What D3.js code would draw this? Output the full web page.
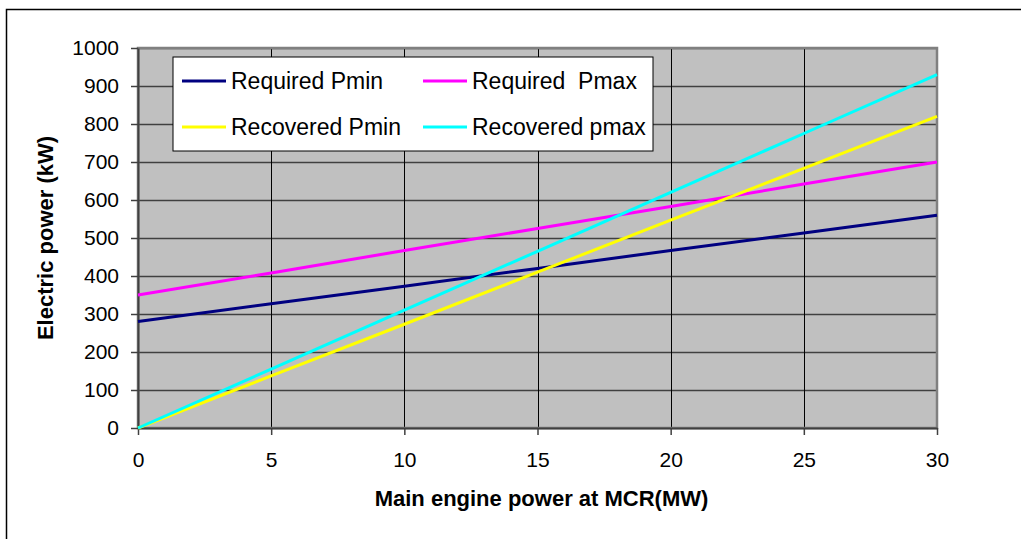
<!DOCTYPE html>
<html><head><meta charset="utf-8">
<script src="https://cdn.jsdelivr.net/npm/d3@7"></script>
<style>body{margin:0;background:#fff}svg{display:block}</style>
</head><body>
<svg id="c" width="1021" height="539"></svg>
<script>
const xValues = [0, 5, 10, 15, 20, 25, 30];
const requiredPmin = [280, 327, 373, 420, 467, 513, 560];
const requiredPmax = [350, 408, 467, 525, 583, 642, 700];
const recoveredPmin = [0, 137, 273, 410, 547, 683, 820];
const recoveredPmax = [0, 155, 310, 465, 620, 775, 930];
const seriesNames = ["Required Pmin", "Required  Pmax", "Recovered Pmin", "Recovered pmax"];
const seriesColors = ["#000080", "#ff00ff", "#ffff00", "#00ffff"];
const xTicks = [0, 5, 10, 15, 20, 25, 30];
const yTicks = [0, 100, 200, 300, 400, 500, 600, 700, 800, 900, 1000];
const xTitle = "Main engine power at MCR(MW)";
const yTitle = "Electric power (kW)";

const series = [requiredPmin, requiredPmax, recoveredPmin, recoveredPmax];
const svg = d3.select("#c");
const L = 138, R = 937, T = 48, B = 428;
const x = d3.scaleLinear().domain([0, 30]).range([L, R]);
const y = d3.scaleLinear().domain([0, 1000]).range([B, T]);
const font = "Arial, 'Liberation Sans', sans-serif";

// outer border
svg.append("rect").attr("x", 6.5).attr("y", 9.5).attr("width", 1040).attr("height", 560)
  .attr("fill", "#fff").attr("stroke", "#000").attr("stroke-width", 1.5);

// plot bg
svg.append("rect").attr("x", L).attr("y", T).attr("width", R - L).attr("height", B - T).attr("fill", "#c0c0c0");

// gridlines
svg.append("g").selectAll("line").data(yTicks.slice(1)).join("line")
  .attr("x1", L).attr("x2", R).attr("y1", d => Math.round(y(d)) + 0.5).attr("y2", d => Math.round(y(d)) + 0.5)
  .attr("stroke", "#404040").attr("stroke-width", 1.5);
svg.append("g").selectAll("line").data(xTicks.slice(1, -1)).join("line")
  .attr("y1", T).attr("y2", B).attr("x1", d => Math.round(x(d)) + 0.5).attr("x2", d => Math.round(x(d)) + 0.5)
  .attr("stroke", "#000").attr("stroke-width", 1);

// plot border
svg.append("rect").attr("x", L).attr("y", T).attr("width", R - L).attr("height", B - T)
  .attr("fill", "none").attr("stroke", "#808080").attr("stroke-width", 2.5);

// axes
const fmt = d3.format("d");
const yAxis = d3.axisLeft(y).tickValues(yTicks).tickFormat(fmt).tickSize(7).tickPadding(12).tickSizeOuter(0);
const gy = svg.append("g").attr("transform", `translate(${L},0)`).call(yAxis);
const xAxis = d3.axisBottom(x).tickValues(xTicks).tickFormat(fmt).tickSize(7).tickPadding(17).tickSizeOuter(0);
const gx = svg.append("g").attr("transform", `translate(0,${B})`).call(xAxis);
[gy, gx].forEach(g => {
  g.select(".domain").attr("stroke", "#404040").attr("stroke-width", 2);
  g.selectAll(".tick line").attr("stroke", "#404040").attr("stroke-width", 1.5);
  g.selectAll("text").attr("font-family", font).attr("font-size", 21).attr("fill", "#000");
});

// lines
const line = d3.line().x((d, i) => x(xValues[i])).y(d => y(d));
series.forEach((s, i) => {
  svg.append("path").datum(s).attr("d", line).attr("fill", "none")
    .attr("stroke", seriesColors[i]).attr("stroke-width", 3);
});

// legend
const lg = svg.append("g");
lg.append("rect").attr("x", 173).attr("y", 57).attr("width", 480).attr("height", 94)
  .attr("fill", "#fff").attr("stroke", "#000").attr("stroke-width", 1);
const pos = [[182, 81], [423, 81], [182, 127], [423, 127]];
seriesNames.forEach((n, i) => {
  const [px, py] = pos[i];
  lg.append("line").attr("x1", px).attr("x2", px + 44).attr("y1", py).attr("y2", py)
    .attr("stroke", seriesColors[i]).attr("stroke-width", 3);
  lg.append("text").attr("x", px + 49).attr("y", py).attr("dy", "0.35em")
    .attr("font-family", font).attr("font-size", 23).attr("fill", "#000")
    .style("white-space", "pre").attr("xml:space", "preserve").text(n);
});

// axis titles
svg.append("text").attr("x", (L + R) / 2 + 4).attr("y", 506).attr("text-anchor", "middle")
  .attr("font-family", font).attr("font-size", 22).attr("font-weight", "bold").text(xTitle);
svg.append("text").attr("transform", `translate(45,${(T + B) / 2}) rotate(-90)`).attr("text-anchor", "middle")
  .attr("dy", "0.35em").attr("font-family", font).attr("font-size", 22).attr("font-weight", "bold").text(yTitle);
</script>
</body></html>
